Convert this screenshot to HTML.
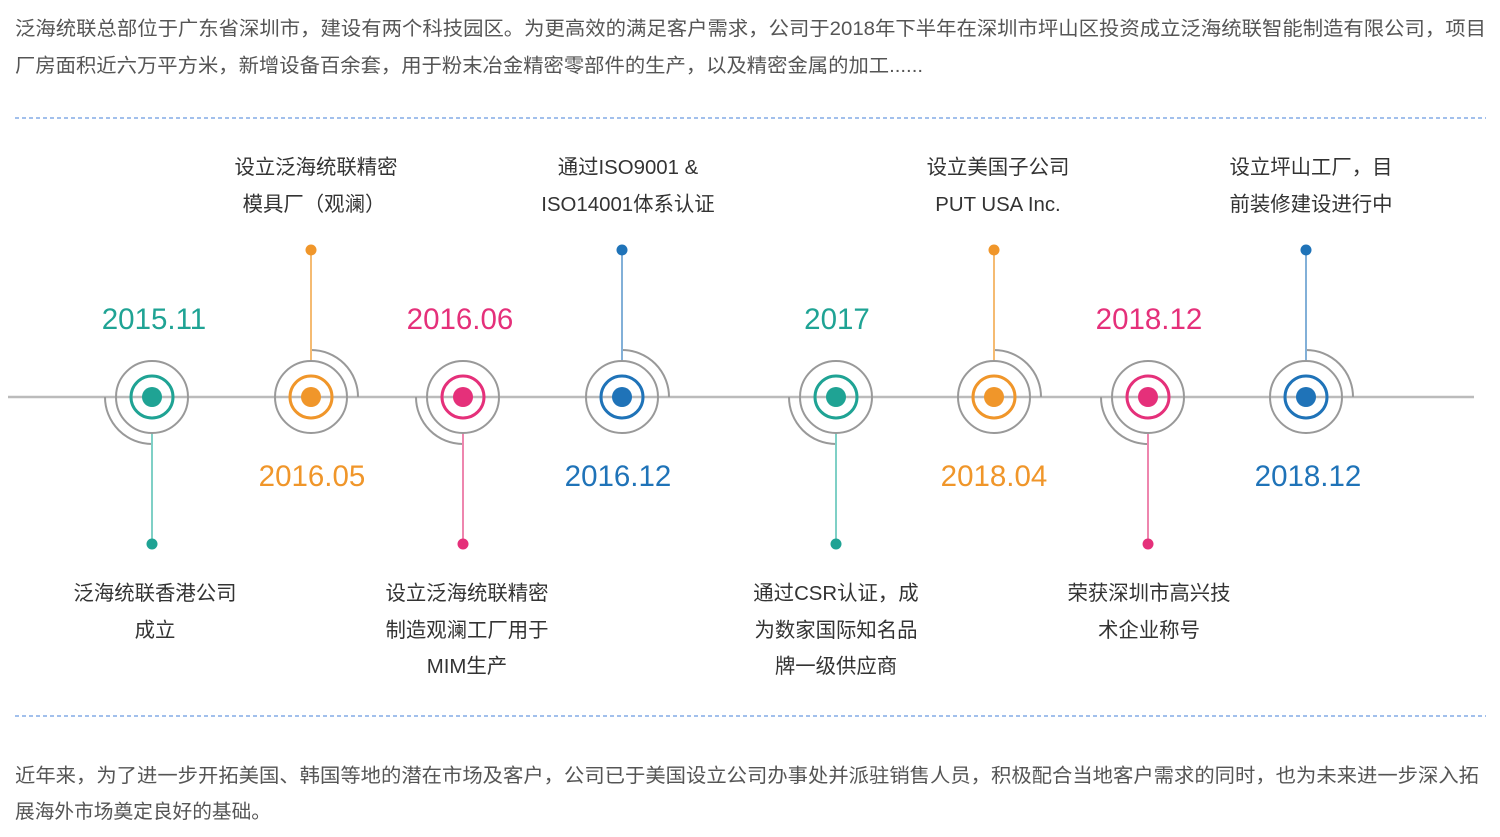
<!DOCTYPE html>
<html><head><meta charset="utf-8"><style>
html,body{margin:0;padding:0;background:#fff;width:1500px;height:837px;overflow:hidden}
svg text{font-family:"Liberation Sans","Noto Sans CJK SC",sans-serif}
</style></head><body>
<svg width="1500" height="837" xmlns="http://www.w3.org/2000/svg">
<g fill="#555" font-size="19.5">
<text x="15" y="35" textLength="1471" lengthAdjust="spacingAndGlyphs">泛海统联总部位于广东省深圳市，建设有两个科技园区。为更高效的满足客户需求，公司于2018年下半年在深圳市坪山区投资成立泛海统联智能制造有限公司，项目</text>
<text x="15" y="72" textLength="908" lengthAdjust="spacingAndGlyphs">厂房面积近六万平方米，新增设备百余套，用于粉末冶金精密零部件的生产，以及精密金属的加工......</text>
<text x="15" y="782" textLength="1464" lengthAdjust="spacingAndGlyphs">近年来，为了进一步开拓美国、韩国等地的潜在市场及客户，公司已于美国设立公司办事处并派驻销售人员，积极配合当地客户需求的同时，也为未来进一步深入拓</text>
<text x="15" y="818" textLength="256" lengthAdjust="spacingAndGlyphs">展海外市场奠定良好的基础。</text>
</g>
<line x1="15" y1="118" x2="1486" y2="118" stroke="#6b9ae0" stroke-width="1.2" stroke-dasharray="4,3"/>
<line x1="15" y1="716" x2="1486" y2="716" stroke="#6b9ae0" stroke-width="1.2" stroke-dasharray="4,3"/>
<line x1="8" y1="397" x2="1474" y2="397" stroke="#bbb" stroke-width="2.5"/>
<g stroke="#999" stroke-width="2" fill="none">
<path d="M105 397 A47 47 0 0 0 152 444"/>
<path d="M416 397 A47 47 0 0 0 463 444"/>
<path d="M789 397 A47 47 0 0 0 836 444"/>
<path d="M1101 397 A47 47 0 0 0 1148 444"/>
<path d="M311 350 A47 47 0 0 1 358 397"/>
<path d="M622 350 A47 47 0 0 1 669 397"/>
<path d="M994 350 A47 47 0 0 1 1041 397"/>
<path d="M1306 350 A47 47 0 0 1 1353 397"/>
</g>
<g stroke-width="2">
<line x1="152" y1="433" x2="152" y2="544" stroke="#7fd0c6"/>
<line x1="463" y1="433" x2="463" y2="544" stroke="#ee86ae"/>
<line x1="836" y1="433" x2="836" y2="544" stroke="#7fd0c6"/>
<line x1="1148" y1="433" x2="1148" y2="544" stroke="#ee86ae"/>
<line x1="311" y1="250" x2="311" y2="361" stroke="#f5bb72"/>
<line x1="622" y1="250" x2="622" y2="361" stroke="#82b0d8"/>
<line x1="994" y1="250" x2="994" y2="361" stroke="#f5bb72"/>
<line x1="1306" y1="250" x2="1306" y2="361" stroke="#82b0d8"/>
</g>
<g fill="none" stroke="#999" stroke-width="2">
<circle cx="152" cy="397" r="36"/><circle cx="311" cy="397" r="36"/><circle cx="463" cy="397" r="36"/><circle cx="622" cy="397" r="36"/>
<circle cx="836" cy="397" r="36"/><circle cx="994" cy="397" r="36"/><circle cx="1148" cy="397" r="36"/><circle cx="1306" cy="397" r="36"/>
</g>
<g fill="none" stroke-width="3">
<circle cx="152" cy="397" r="21" stroke="#1fa394"/><circle cx="836" cy="397" r="21" stroke="#1fa394"/>
<circle cx="311" cy="397" r="21" stroke="#f0962a"/><circle cx="994" cy="397" r="21" stroke="#f0962a"/>
<circle cx="463" cy="397" r="21" stroke="#e5307a"/><circle cx="1148" cy="397" r="21" stroke="#e5307a"/>
<circle cx="622" cy="397" r="21" stroke="#1f73b8"/><circle cx="1306" cy="397" r="21" stroke="#1f73b8"/>
</g>
<g>
<circle cx="152" cy="397" r="10" fill="#1fa394"/><circle cx="836" cy="397" r="10" fill="#1fa394"/>
<circle cx="311" cy="397" r="10" fill="#f0962a"/><circle cx="994" cy="397" r="10" fill="#f0962a"/>
<circle cx="463" cy="397" r="10" fill="#e5307a"/><circle cx="1148" cy="397" r="10" fill="#e5307a"/>
<circle cx="622" cy="397" r="10" fill="#1f73b8"/><circle cx="1306" cy="397" r="10" fill="#1f73b8"/>
<circle cx="152" cy="544" r="5.5" fill="#1fa394"/><circle cx="836" cy="544" r="5.5" fill="#1fa394"/>
<circle cx="463" cy="544" r="5.5" fill="#e5307a"/><circle cx="1148" cy="544" r="5.5" fill="#e5307a"/>
<circle cx="311" cy="250" r="5.5" fill="#f0962a"/><circle cx="994" cy="250" r="5.5" fill="#f0962a"/>
<circle cx="622" cy="250" r="5.5" fill="#1f73b8"/><circle cx="1306" cy="250" r="5.5" fill="#1f73b8"/>
</g>
<g font-size="29.5" text-anchor="middle">
<text x="154" y="329" fill="#1fa394">2015.11</text>
<text x="460" y="329" fill="#e5307a">2016.06</text>
<text x="837" y="329" fill="#1fa394">2017</text>
<text x="1149" y="329" fill="#e5307a">2018.12</text>
<text x="312" y="486" fill="#f0962a">2016.05</text>
<text x="618" y="486" fill="#1f73b8">2016.12</text>
<text x="994" y="486" fill="#f0962a">2018.04</text>
<text x="1308" y="486" fill="#1f73b8">2018.12</text>
</g>
<g font-size="20.4" fill="#333" text-anchor="middle">
<text x="316" y="174">设立泛海统联精密</text><text x="314" y="211">模具厂（观澜）</text>
<text x="628" y="174">通过ISO9001 &amp;</text><text x="628" y="211">ISO14001体系认证</text>
<text x="998" y="174">设立美国子公司</text><text x="998" y="211">PUT USA Inc.</text>
<text x="1311" y="174">设立坪山工厂，目</text><text x="1311" y="211">前装修建设进行中</text>
<text x="155" y="600">泛海统联香港公司</text><text x="155" y="637">成立</text>
<text x="467" y="600">设立泛海统联精密</text><text x="467" y="637">制造观澜工厂用于</text><text x="467" y="673">MIM生产</text>
<text x="836" y="600">通过CSR认证，成</text><text x="836" y="637">为数家国际知名品</text><text x="836" y="673">牌一级供应商</text>
<text x="1149" y="600">荣获深圳市高兴技</text><text x="1149" y="637">术企业称号</text>
</g>
</svg>
</body></html>
